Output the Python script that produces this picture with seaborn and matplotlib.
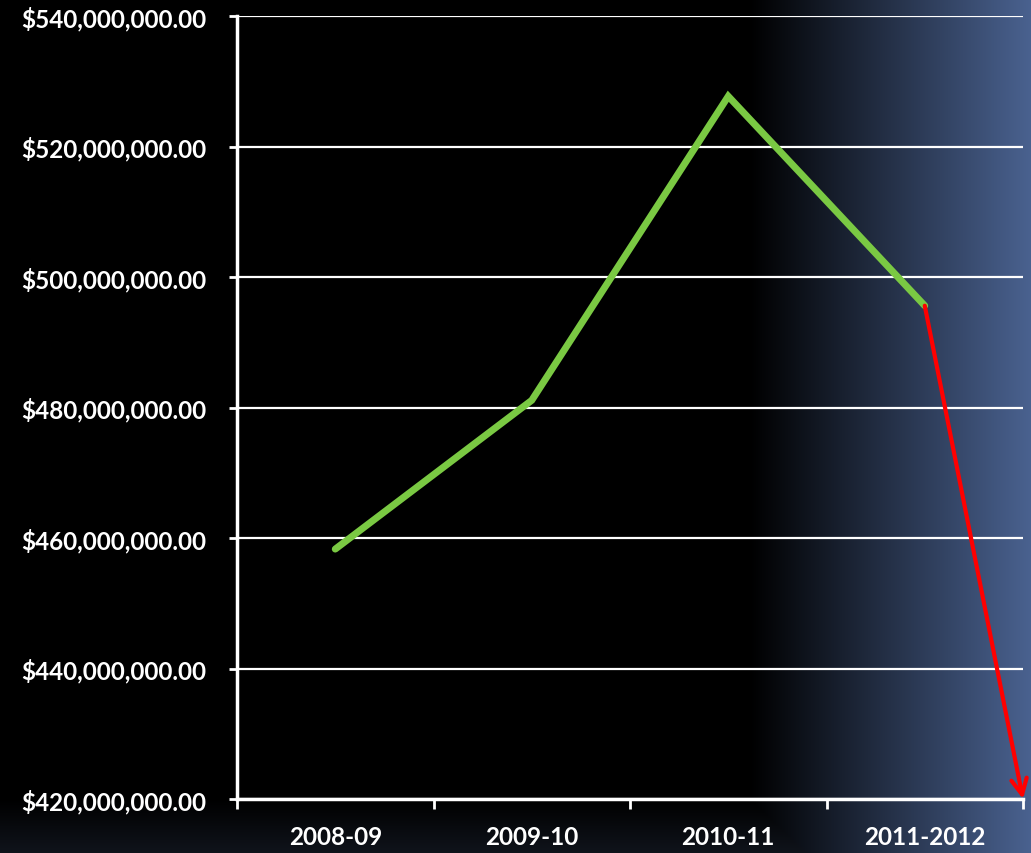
import numpy as np
import pandas as pd
import matplotlib
matplotlib.use("Agg")
import matplotlib.pyplot as plt
from matplotlib.ticker import FuncFormatter
import seaborn as sns

# Dane
years = ["2008-09", "2009-10", "2010-11", "2011-2012"]
budget = [458300000, 481100000, 527700000, 495600000]
# projekcja (czerwona strzałka): od ostatniego punktu do końca osi
proj_x = [3, 3.5]
proj_y = [495600000, 420000000]

y_ticks = [420000000, 440000000, 460000000, 480000000, 500000000, 520000000, 540000000]

GREEN = "#7ac943"
RED = "#ff0000"

sns.set_style("dark")
plt.rcParams["font.family"] = ["Lato", "DejaVu Sans"]
plt.rcParams["font.weight"] = "bold"

W, H = 1031, 854
fig = plt.figure(figsize=(W / 100, H / 100), dpi=100)
fig.patch.set_facecolor("black")

# tło: gradient czarny -> niebieski po prawej, lekko granatowy na dole
bg = fig.add_axes([0, 0, 1, 1], zorder=0)
xs = np.arange(W)
ys = np.arange(H)
t = np.clip((xs - 750) / (W - 750), 0, 1)[None, :, None]
v = np.clip((ys - 800) / (H - 800), 0, 1)[:, None, None]
blue = np.array([74, 98, 144]) / 255.0
navy = np.array([16, 20, 28]) / 255.0
img = np.maximum(t * blue, v * navy)
bg.imshow(img, aspect="auto", extent=[0, 1, 0, 1], origin="upper")
bg.axis("off")

ax = fig.add_axes([237 / W, 1 - 800 / H, (1023 - 237) / W, (800 - 17) / H], zorder=1)
ax.set_facecolor("none")

df = pd.DataFrame({"year": years, "budget": budget})
df["pos"] = np.arange(len(years))
sns.lineplot(data=df, x="pos", y="budget", ax=ax, color=GREEN, linewidth=5,
             solid_capstyle="round", solid_joinstyle="miter", zorder=3)

ax.annotate("", xy=(proj_x[1], proj_y[1]), xytext=(proj_x[0], proj_y[0]),
            arrowprops=dict(arrowstyle="->", color=RED, lw=3, mutation_scale=28,
                            shrinkA=0, shrinkB=0),
            annotation_clip=False, zorder=4)

ax.set_xlim(-0.5, 3.5)
ax.set_ylim(y_ticks[0], y_ticks[-1])
ax.set_yticks(y_ticks)
ax.yaxis.set_major_formatter(FuncFormatter(lambda v, p: f"${v:,.2f}"))

# znaczniki osi X na granicach kategorii, etykiety w środku
ax.set_xticks(np.arange(-0.5, len(years), 1.0))
ax.set_xticklabels([])
ax.set_xticks(np.arange(len(years)), minor=True)
ax.set_xticklabels(years, minor=True)
ax.tick_params(axis="x", which="major", bottom=True, direction="out", length=7,
               width=2, color="white")
ax.tick_params(axis="x", which="minor", bottom=True, length=0, pad=19,
               labelsize=17.5, labelcolor="white")
ax.tick_params(axis="y", left=True, direction="out", length=6, width=2,
               color="white", labelsize=17.5, labelcolor="white", pad=16)
for lbl in ax.get_xticklabels(minor=True) + ax.get_yticklabels():
    lbl.set_fontweight("bold")

ax.grid(False)
ax.yaxis.grid(True, color="white", linewidth=1.6)
ax.set_axisbelow(True)
for side in ["top", "right"]:
    ax.spines[side].set_visible(False)
for side in ["left", "bottom"]:
    ax.spines[side].set_color("white")
    ax.spines[side].set_linewidth(2.5)
ax.set_xlabel("")
ax.set_ylabel("")

fig.savefig("out.png", dpi=100, facecolor=fig.get_facecolor())
